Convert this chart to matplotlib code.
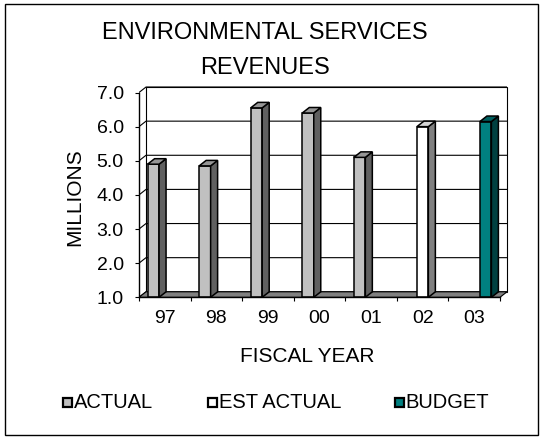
import matplotlib
matplotlib.use("Agg")
import matplotlib.pyplot as plt
from matplotlib.patches import Polygon, Rectangle
from matplotlib.ticker import FixedLocator, FixedFormatter, NullFormatter

plt.rcParams["font.family"] = ["Liberation Sans", "DejaVu Sans"]

# ---- data -------------------------------------------------------------
years = ["97", "98", "99", "00", "01", "02", "03"]
series_names = ["ACTUAL", "EST ACTUAL", "BUDGET"]
actual = [4.9, 4.85, 6.55, 6.4, 5.1, None, None]
est_actual = [None, None, None, None, None, 6.0, None]
budget = [None, None, None, None, None, None, 6.15]
y_ticks = [1.0, 2.0, 3.0, 4.0, 5.0, 6.0, 7.0]

# ---- styling ------------------------------------------------------------
front_colors = ["#C0C0C0", "#FFFFFF", "#008080"]
top_colors = ["#969696", "#D4D4D4", "#006060"]
side_colors = ["#606060", "#808080", "#004040"]
floor_color = "#808080"

W, H, DPI = 543, 437, 100
fig = plt.figure(figsize=(W / DPI, H / DPI), dpi=DPI)

# plot area (front plane): x 0..7 categories, y 1..7 millions
px_per_cat = 51.57
px_per_unit = 34.13
ax_left_px, ax_bottom_px = 139, 297.3
xmax, ymax = 7.25, 7.35
ax = fig.add_axes([ax_left_px / W, 1 - ax_bottom_px / H,
                   xmax * px_per_cat / W, (ymax - 1) * px_per_unit / H])
ax.set_xlim(0, xmax)
ax.set_ylim(1, ymax)
ax.set_facecolor("none")

# depth of the 3-D box, in data units
DX = 7 / px_per_cat
DY = 5.5 / px_per_unit
n = len(years)

# back wall and side-wall gridlines
ax.add_patch(Polygon([(DX, 1 + DY), (n + DX, 1 + DY), (n + DX, y_ticks[-1] + DY),
                      (DX, y_ticks[-1] + DY)], closed=True, fc="white",
                     ec="black", lw=0.8, zorder=0.5))
for v in y_ticks:
    ax.plot([0, DX, n + DX], [v, v + DY, v + DY], color="black", lw=0.8,
            zorder=1, solid_capstyle="butt")

# floor
ax.add_patch(Polygon([(0, 1), (n, 1), (n + DX, 1 + DY), (DX, 1 + DY)],
                     closed=True, fc=floor_color, ec="black", lw=0.8, zorder=2))

# clustered 3-D columns: three slots per year, gap width 150 %
bw = 1 / 4.5
series = [actual, est_actual, budget]
z = 3
for i in range(n):
    for s, vals in enumerate(series):
        v = vals[i]
        if v is None:
            continue
        x0 = i + 0.75 * bw + s * bw
        x1 = x0 + bw
        ax.bar(x0, v - 1, bottom=1, width=bw, align="edge",
               color=front_colors[s], edgecolor="black", linewidth=1.1, zorder=z)
        ax.add_patch(Polygon([(x1, 1), (x1 + DX, 1 + DY), (x1 + DX, v + DY), (x1, v)],
                             closed=True, fc=side_colors[s], ec="black", lw=1.1,
                             zorder=z))
        ax.add_patch(Polygon([(x0, v), (x1, v), (x1 + DX, v + DY), (x0 + DX, v + DY)],
                             closed=True, fc=top_colors[s], ec="black", lw=1.1,
                             zorder=z))
        z += 0.1

# axes, ticks and labels
for side in ("top", "right"):
    ax.spines[side].set_visible(False)
ax.spines["left"].set_bounds(1, 7)
ax.spines["bottom"].set_bounds(0, n)
for side in ("left", "bottom"):
    ax.spines[side].set_linewidth(1.0)
    ax.spines[side].set_zorder(10)

ax.yaxis.set_major_locator(FixedLocator(y_ticks))
ax.yaxis.set_major_formatter(FixedFormatter([f"{v:.1f}" for v in y_ticks]))
ax.tick_params(axis="y", which="major", direction="out", length=3, width=0.8,
               pad=8, labelsize=14)

ax.xaxis.set_major_locator(FixedLocator(list(range(n + 1))))
ax.xaxis.set_major_formatter(NullFormatter())
ax.xaxis.set_minor_locator(FixedLocator([i + 0.5 for i in range(n)]))
ax.xaxis.set_minor_formatter(FixedFormatter(years))
ax.tick_params(axis="x", which="major", direction="out", length=3, width=0.8)
ax.tick_params(axis="x", which="minor", length=0, pad=9, labelsize=14)

# titles
fig.text(265 / W, 1 - 33 / H, "ENVIRONMENTAL SERVICES", ha="center", va="center",
         fontsize=17)
fig.text(265 / W, 1 - 68 / H, "REVENUES", ha="center", va="center", fontsize=17)
fig.text(75 / W, 1 - 197 / H, "MILLIONS", ha="center", va="center",
         rotation=90, fontsize=15)
fig.text(307 / W, 1 - 356 / H, "FISCAL YEAR", ha="center", va="center",
         fontsize=15)

# legend: square swatch followed by the series name
legend_x = [63, 208, 395]
legend_y = 402
sq = 9
for s in range(3):
    fig.patches.append(Rectangle((legend_x[s] / W, 1 - (legend_y + sq / 2) / H),
                                 sq / W, sq / H, transform=fig.transFigure,
                                 facecolor=front_colors[s], edgecolor="black",
                                 linewidth=1.6))
    fig.text((legend_x[s] + sq + 1.5) / W, 1 - legend_y / H, series_names[s],
             ha="left", va="center", fontsize=14.5)

# outer chart frame
fig.patches.append(Rectangle((5 / W, 2 / H), 533 / W, 431 / H,
                             transform=fig.transFigure, fill=False,
                             edgecolor="black", linewidth=1.0))

fig.savefig("out.png", dpi=DPI)
